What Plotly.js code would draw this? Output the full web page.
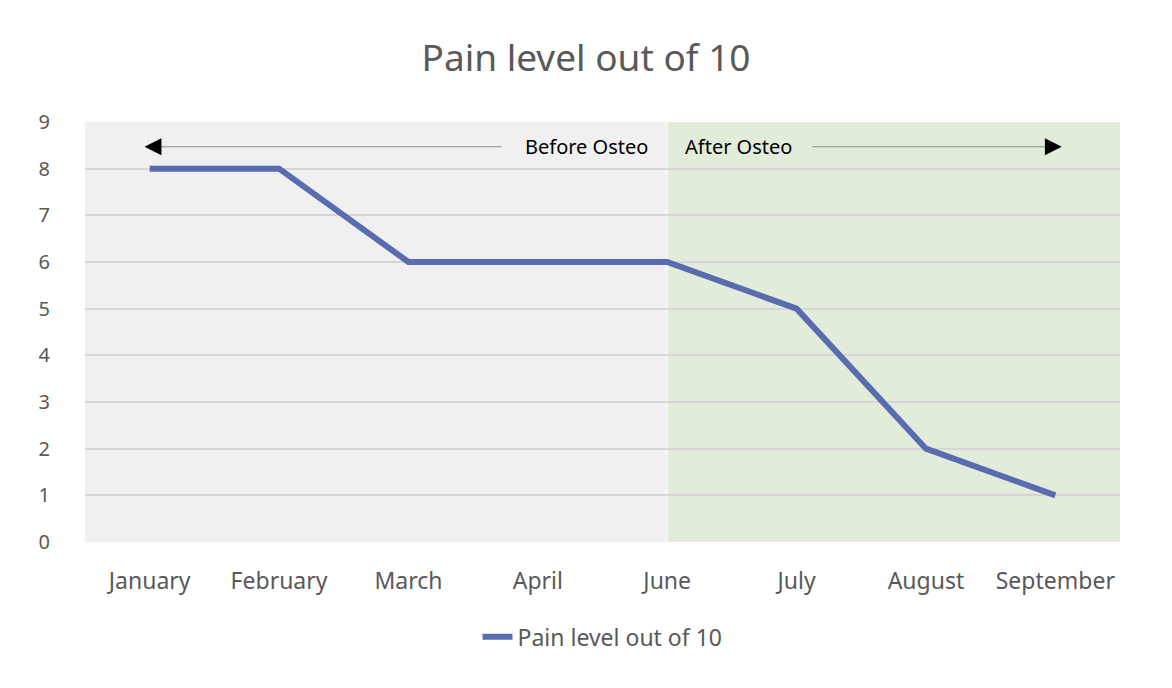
<!DOCTYPE html>
<html><head><meta charset="utf-8">
<script src="https://cdn.plot.ly/plotly-3.0.1.min.js"></script>
<style>html,body{margin:0;padding:0;background:#fff}#chart{width:1172px;height:688px}</style>
</head><body><div id="chart"></div>
<script>
const months = ['January','February','March','April','June','July','August','September'];
const pain = [8, 8, 6, 6, 6, 5, 2, 1];
const seriesName = 'Pain level out of 10';
const yTicks = [0,1,2,3,4,5,6,7,8,9];

const trace = {
  x: months, y: pain, type: 'scatter', mode: 'lines', name: seriesName,
  line: {color: '#5a6bb0', width: 6, shape: 'linear'}
};

const arrowLine = {showarrow: true, arrowhead: 0, arrowwidth: 1.2, arrowcolor: '#8c8c8c', standoff: 0, text: ''};
const arrowHead = {showarrow: true, arrowhead: 2, arrowsize: 2.6, arrowwidth: 1.3, arrowcolor: '#000000', standoff: 0, text: ''};

const layout = {
  width: 1172, height: 688,
  paper_bgcolor: '#ffffff', plot_bgcolor: 'rgba(0,0,0,0)',
  margin: {l: 85, r: 52, t: 122, b: 146},
  font: {family: 'Noto Sans, Open Sans, sans-serif', color: '#595959'},
  title: {text: 'Pain level out of 10', x: 0.5, xanchor: 'center', y: 0.915, yanchor: 'middle',
          font: {size: 37, color: '#595959', family: 'Noto Sans, sans-serif'}},
  xaxis: {type: 'category', range: [-0.5, 7.5], showgrid: false, zeroline: false,
          showline: true, linecolor: 'rgba(0,0,0,0)',
          ticks: 'outside', ticklen: 18, tickcolor: 'rgba(0,0,0,0)',
          tickfont: {size: 23, color: '#595959'}, fixedrange: true},
  yaxis: {range: [0, 9], tickvals: yTicks, showgrid: true, gridcolor: '#d6d6d6', gridwidth: 2,
          zeroline: false, showline: true, linecolor: 'rgba(0,0,0,0)',
          ticks: 'outside', ticklen: 30, tickcolor: 'rgba(0,0,0,0)',
          tickfont: {size: 20, color: '#595959'}, fixedrange: true},
  showlegend: true,
  legend: {orientation: 'h', x: 0.5, xanchor: 'center', y: -0.226, yanchor: 'middle',
           font: {size: 23, color: '#595959'}},
  shapes: [
    {type: 'rect', xref: 'x', yref: 'y', x0: -0.5, x1: 4, y0: 0, y1: 9, fillcolor: '#f0f0f0', line: {width: 0}, layer: 'below'},
    {type: 'rect', xref: 'x', yref: 'y', x0: 4, x1: 7.5, y0: 0, y1: 9, fillcolor: '#e1edda', line: {width: 0}, layer: 'below'},
    {type: 'line', xref: 'x', yref: 'y', x0: 4, x1: 4, y0: 0, y1: 9, line: {color: '#ffffff', width: 1}, layer: 'below'}
  ],
  annotations: [
    Object.assign({xref: 'x', yref: 'y', x: -0.03, y: 8.47, axref: 'x', ayref: 'y', ax: 2.73, ay: 8.47}, arrowLine),
    Object.assign({xref: 'x', yref: 'y', x: -0.04, y: 8.47, axref: 'x', ayref: 'y', ax: 0.1, ay: 8.47}, arrowHead),
    Object.assign({xref: 'x', yref: 'y', x: 7.04, y: 8.47, axref: 'x', ayref: 'y', ax: 5.11, ay: 8.47}, arrowLine),
    Object.assign({xref: 'x', yref: 'y', x: 7.05, y: 8.47, axref: 'x', ayref: 'y', ax: 6.91, ay: 8.47}, arrowHead),
    {xref: 'x', yref: 'y', x: 3.38, y: 8.47, text: 'Before Osteo', showarrow: false,
     font: {size: 20, color: '#000000', family: 'Noto Sans, sans-serif'}},
    {xref: 'x', yref: 'y', x: 4.55, y: 8.47, text: 'After Osteo', showarrow: false,
     font: {size: 20, color: '#000000', family: 'Noto Sans, sans-serif'}}
  ]
};

Plotly.newPlot('chart', [trace], layout, {displayModeBar: false, staticPlot: true});
</script>
</body></html>
